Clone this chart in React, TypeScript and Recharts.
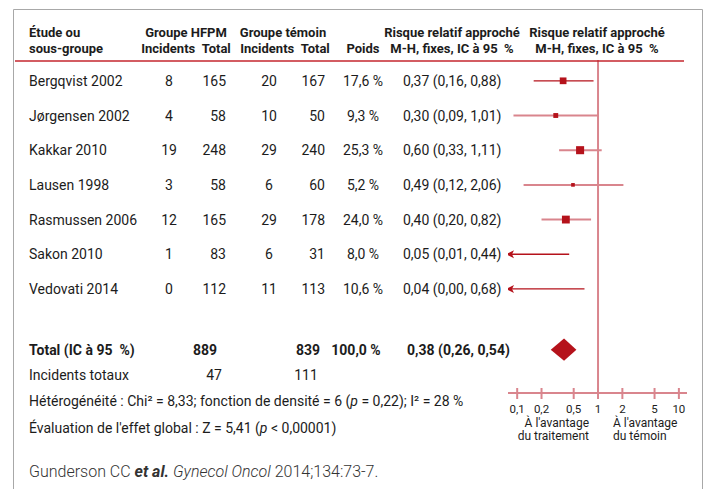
import React from 'react';
import { ComposedChart, XAxis, YAxis, Line, Scatter, Area, ReferenceLine } from 'recharts';

// études, dans l'ordre d'affichage
const studies = [
  'Bergqvist 2002',
  'Jørgensen 2002',
  'Kakkar 2010',
  'Lausen 1998',
  'Rasmussen 2006',
  'Sakon 2010',
  'Vedovati 2014',
];
const hfpmEvents = [8, 4, 19, 3, 12, 1, 0];
const hfpmTotal = [165, 58, 248, 58, 165, 83, 112];
const ctrlEvents = [20, 10, 29, 6, 29, 6, 11];
const ctrlTotal = [167, 50, 240, 60, 178, 31, 113];
const weights = [17.6, 9.3, 25.3, 5.2, 24.0, 8.0, 10.6];
const rr = [0.37, 0.3, 0.6, 0.49, 0.4, 0.05, 0.04];
const ciLow = [0.16, 0.09, 0.33, 0.12, 0.2, 0.01, 0.0];
const ciHigh = [0.88, 1.01, 1.11, 2.06, 0.82, 0.44, 0.68];

const totalHfpm = 889;
const totalCtrl = 839;
const totalEventsHfpm = 47;
const totalEventsCtrl = 111;
const totalRR = 0.38;
const totalLow = 0.26;
const totalHigh = 0.54;

const xTicks = [0.1, 0.2, 0.5, 1, 2, 5, 10];

const X_MIN = 0.077;
const X_MAX = 12.6;
const TOTAL_ROW = 7.75;
const DIAMOND_HALF = 0.32;
const AXIS_Y = 393;

const RED = '#b5121b';
const PINK = '#d9858d';
const INK = '#1c1c1c';
const FONT = "Roboto, 'Noto Sans', sans-serif";
const GAP = '\u00a0\u00a0';

const fmt = (v: number) => v.toFixed(2).replace('.', ',');
const fmtW = (v: number) => v.toFixed(1).replace('.', ',') + ' %';

const squareData = rr
  .map((v, i) => ({ x: v, y: i, w: weights[i] }))
  .filter((d) => d.x >= X_MIN);

const ciData = studies.map((_, i) => ({
  arrow: ciLow[i] < X_MIN,
  dark: i === 0 || ciLow[i] < X_MIN,
  points: [
    { x: Math.max(ciLow[i], X_MIN), y: i },
    { x: ciHigh[i], y: i },
  ],
}));

const diamondData = [
  { x: totalLow, range: [TOTAL_ROW, TOTAL_ROW] },
  { x: totalRR, range: [TOTAL_ROW - DIAMOND_HALF, TOTAL_ROW + DIAMOND_HALF] },
  { x: totalHigh, range: [TOTAL_ROW, TOTAL_ROW] },
];

const RowTick = (props: any) => {
  const { y, payload } = props;
  const v = payload.value;
  const common = { fontFamily: FONT, fontSize: 14, fill: INK, dominantBaseline: 'central' as const };
  if (v === TOTAL_ROW) {
    return (
      <g fontWeight="bold">
        <text x={29} y={y} {...common} fontWeight="bold">{`Total (IC à 95${GAP}%)`}</text>
        <text x={217} y={y} textAnchor="end" {...common} fontWeight="bold">{totalHfpm}</text>
        <text x={320} y={y} textAnchor="end" {...common} fontWeight="bold">{totalCtrl}</text>
        <text x={356} y={y} textAnchor="middle" {...common} fontWeight="bold">100,0 %</text>
        <text x={407} y={y} {...common} fontWeight="bold">{`${fmt(totalRR)} (${fmt(totalLow)}, ${fmt(totalHigh)})`}</text>
      </g>
    );
  }
  const i = Math.round(v);
  return (
    <g>
      <text x={29} y={y} {...common}>{studies[i]}</text>
      <text x={169} y={y} textAnchor="middle" {...common}>{hfpmEvents[i]}</text>
      <text x={226} y={y} textAnchor="end" {...common}>{hfpmTotal[i]}</text>
      <text x={269} y={y} textAnchor="middle" {...common}>{ctrlEvents[i]}</text>
      <text x={325} y={y} textAnchor="end" {...common}>{ctrlTotal[i]}</text>
      <text x={363} y={y} textAnchor="middle" {...common}>{fmtW(weights[i])}</text>
      <text x={403} y={y} {...common}>{`${fmt(rr[i])} (${fmt(ciLow[i])}, ${fmt(ciHigh[i])})`}</text>
    </g>
  );
};

const AxisTick = (props: any) => {
  const { x, payload } = props;
  return (
    <g>
      <line x1={x} x2={x} y1={AXIS_Y - 5} y2={AXIS_Y + 6} stroke={PINK} strokeWidth={2} />
      <text
        x={x}
        y={AXIS_Y + 16}
        textAnchor="middle"
        dominantBaseline="central"
        fontFamily={FONT}
        fontSize={11.5}
        fill={INK}
      >
        {String(payload.value).replace('.', ',')}
      </text>
    </g>
  );
};

const Square = (props: any) => {
  const { cx, cy, payload } = props;
  const s = 1.6 * Math.sqrt(payload.w);
  return <rect x={cx - s / 2} y={cy - s / 2} width={s} height={s} fill={RED} />;
};

const ArrowDot = (props: any) => {
  const { cx, cy, index } = props;
  if (index !== 0) return <g key={index} />;
  return <path key={index} d={`M${cx - 2},${cy} L${cx + 6},${cy - 4} L${cx + 4},${cy} L${cx + 6},${cy + 4} Z`} fill={RED} />;
};

const Overlay = () => {
  const t = { fontFamily: FONT, fill: INK };
  return (
    <svg width={704} height={489} style={{ position: 'absolute', left: 0, top: 0, pointerEvents: 'none' }}>
      <path d="M13.5,489 L13.5,9.5 L702.5,9.5 L702.5,489" fill="none" stroke="#a8a8a8" strokeWidth={1} />
      <line x1={15} x2={684} y1={61} y2={61} stroke="#c4262e" strokeWidth={1.3} />
      <g {...t} fontSize={13} fontWeight="bold">
        <text x={29} y={37}>Étude ou</text>
        <text x={29} y={53}>sous-groupe</text>
        <text x={186} y={37} textAnchor="middle">Groupe HFPM</text>
        <text x={186} y={53} textAnchor="middle">{`Incidents${GAP}Total`}</text>
        <text x={283} y={37} textAnchor="middle">Groupe témoin</text>
        <text x={285} y={53} textAnchor="middle">{`Incidents${GAP}Total`}</text>
        <text x={363} y={53} textAnchor="middle">Poids</text>
        <text x={452} y={37} textAnchor="middle">Risque relatif approché</text>
        <text x={452} y={53} textAnchor="middle">{`M-H, fixes, IC à 95${GAP}%`}</text>
        <text x={597} y={37} textAnchor="middle">Risque relatif approché</text>
        <text x={597} y={53} textAnchor="middle">{`M-H, fixes, IC à 95${GAP}%`}</text>
      </g>
      <g {...t} fontSize={14} dominantBaseline="central">
        <text x={29} y={375}>Incidents totaux</text>
        <text x={214} y={375} textAnchor="middle">{totalEventsHfpm}</text>
        <text x={306} y={375} textAnchor="middle">{totalEventsCtrl}</text>
      </g>
      <g {...t} fontSize={14}>
        <text x={29} y={406}>
          Hétérogénéité : Chi² = 8,33; fonction de densité = 6 (<tspan fontStyle="italic">p</tspan> = 0,22); I² = 28 %
        </text>
        <text x={29} y={433}>
          Évaluation de l'effet global : Z = 5,41 (<tspan fontStyle="italic">p</tspan> &lt; 0,00001)
        </text>
      </g>
      <g {...t} fontSize={12}>
        <text x={589} y={427} textAnchor="end">À l'avantage</text>
        <text x={589} y={440} textAnchor="end">du traitement</text>
        <text x={613} y={427}>À l'avantage</text>
        <text x={613} y={440}>du témoin</text>
      </g>
      <text x={29} y={477} fontFamily={FONT} fontSize={16} fontWeight={300} fill="#333">
        Gunderson CC <tspan fontWeight="bold" fontStyle="italic">et al.</tspan>{' '}
        <tspan fontStyle="italic">Gynecol Oncol</tspan> 2014;134:73-7.
      </text>
    </svg>
  );
};

export default function App() {
  return (
    <div style={{ position: 'relative', width: 704, height: 489, background: '#fff' }}>
      <style>{`body{margin:0}`}</style>
      <ComposedChart width={704} height={489} margin={{ top: 60, right: 17, bottom: 0, left: 0 }}>
        <XAxis
          dataKey="x"
          type="number"
          scale="log"
          domain={[X_MIN, X_MAX]}
          allowDataOverflow
          ticks={xTicks}
          tick={<AxisTick />}
          tickLine={false}
          axisLine={{ stroke: PINK, strokeWidth: 2 }}
          height={96}
          interval={0}
        />
        <YAxis
          dataKey="y"
          type="number"
          reversed
          domain={[-0.6, 9]}
          allowDataOverflow
          ticks={[0, 1, 2, 3, 4, 5, 6, TOTAL_ROW]}
          tick={<RowTick />}
          tickLine={false}
          axisLine={false}
          width={508}
          interval={0}
        />
        <ReferenceLine x={1} stroke={PINK} strokeWidth={2} ifOverflow="visible" />
        {ciData.map((c, i) => (
          <Line
            key={i}
            data={c.points}
            dataKey="y"
            type="linear"
            stroke={c.dark ? RED : PINK}
            strokeWidth={c.dark ? 1.3 : 2}
            dot={c.arrow ? <ArrowDot /> : false}
            activeDot={false}
            isAnimationActive={false}
            legendType="none"
          />
        ))}
        <Area
          data={diamondData}
          dataKey="range"
          type="linear"
          stroke="none"
          fill={RED}
          fillOpacity={1}
          isAnimationActive={false}
          activeDot={false}
          dot={false}
        />
        <Scatter data={squareData} shape={<Square />} isAnimationActive={false} />
      </ComposedChart>
      <Overlay />
    </div>
  );
}
